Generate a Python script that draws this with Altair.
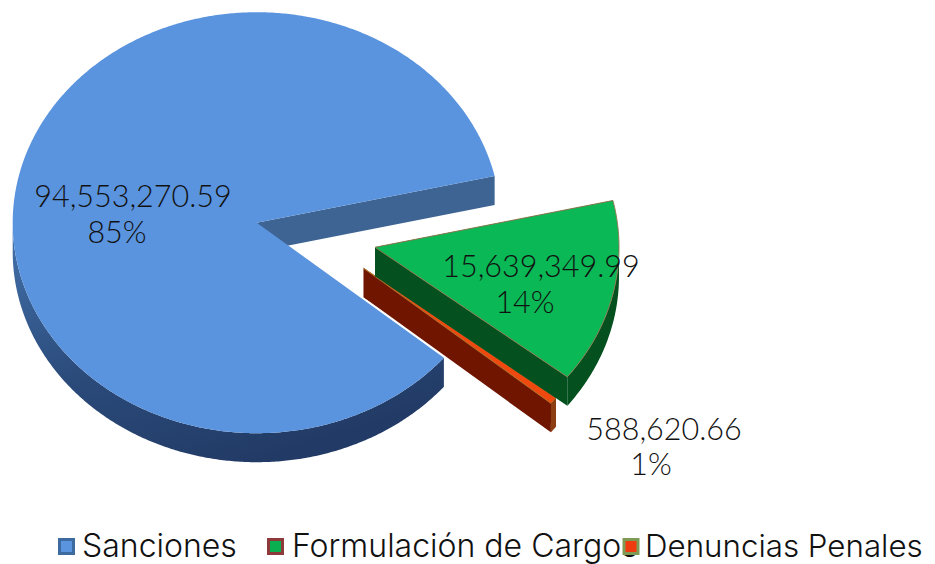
import math
import altair as alt
import pandas as pd

categories = ["Sanciones", "Formulación de Cargos", "Denuncias Penales"]
values = [94553270.59, 15639349.99, 588620.66]
percent_labels = ["85%", "14%", "1%"]
value_labels = ["94,553,270.59", "15,639,349.99", "588,620.66"]

# layout, in page pixels
M = 8
RX, RY, DEPTH = 244, 210.5, 29
START = 129.9
APEX = [(256.7, 222.7), (375, 247.3), (363.7, 268.3)]
FONT = "Lato"
LEGEND_FONT = "Inter"
total = sum(values)
sweeps = [v / total * 360 for v in values]


def pt(c, a, dz=0):
    r = math.radians(a)
    return (c[0] + RX * math.sin(r) - M, c[1] - RY * math.cos(r) + dz - M)


def arc(c, a0, a1, dz=0):
    n = max(4, int(abs(a1 - a0) * 2))
    return [pt(c, a0 + (a1 - a0) * i / n, dz) for i in range(n + 1)]


def shift(c, dz=0):
    return (c[0] - M, c[1] + dz - M)


def geo(poly):
    ring = [list(p) for p in poly] + [list(poly[0])]
    return alt.InlineData(values={"type": "Feature", "properties": {},
                                  "geometry": {"type": "Polygon", "coordinates": [ring]}},
                          format=alt.DataFormat(type="json"))


def shape(poly, fill, stroke=None, sw=0.0):
    kw = {"fill": fill}
    if stroke:
        kw.update(stroke=stroke, strokeWidth=sw)
    else:
        kw.update(strokeWidth=0)
    return alt.Chart(geo(poly)).mark_geoshape(**kw)


def wedge_layers(i, a0, a1, top, cut, outer, stroke=None):
    c = APEX[i]
    layers = []
    # flat cut faces
    for a in (a0, a1):
        p = pt(c, a)
        layers.append(shape([shift(c), p, (p[0], p[1] + DEPTH), shift(c, DEPTH)], cut))
    # outer rim, only where it faces the viewer
    lo = max(a0, 90)
    hi = min(a1, 270)
    if hi > lo:
        layers.append(shape(arc(c, lo, hi) + arc(c, hi, lo, DEPTH), outer))
    layers.append(shape([shift(c)] + arc(c, a0, a1), top, stroke, 1.0))
    return layers


blue_rim = alt.Gradient(gradient="linear", x1=0, y1=0, x2=0.55, y2=1,
                        stops=[alt.GradientStop(offset=0, color="#4473ad"),
                               alt.GradientStop(offset=0.55, color="#2b4b7b"),
                               alt.GradientStop(offset=1, color="#223b66")])

a0 = START
a1 = a0 + sweeps[0]          # blue ends past the full turn
a2 = a1 - 360 + sweeps[1]
a3 = a2 + sweeps[2]

layers = []
layers += wedge_layers(2, a2, a3, "#f0490f", "#701500", "#8c3d12", "#b0762e")
layers += wedge_layers(1, a1 - 360, a2, "#0ab855", "#04501f", "#04501f", "#8c7a50")
# blue: far cut face is seen from the gap, near one is hidden
c = APEX[0]
p = pt(c, a1)
layers.append(shape([shift(c), p, (p[0], p[1] + DEPTH), shift(c, DEPTH)], "#3e6494"))
layers.append(shape(arc(c, a0, 270) + arc(c, 270, a0, DEPTH), blue_rim))
layers.append(shape([shift(c)] + arc(c, a0, a1), "#5b94de"))


def txt(s, x, y, size, anchor="center", font=FONT):
    return alt.Chart(pd.DataFrame({"t": [s]})).mark_text(
        font=font, fontSize=size, fontWeight=300, align=anchor, baseline="alphabetic", color="#111111"
    ).encode(x=alt.value(x - M), y=alt.value(y - M), text="t:N")


def sq(x, y, fill, stroke):
    return alt.Chart(pd.DataFrame({"t": [0]})).mark_square(
        size=196, fill=fill, stroke=stroke, strokeWidth=3, opacity=1
    ).encode(x=alt.value(x - M), y=alt.value(y - M))


SIZE = 30.5
LEG = 32
layers += [
    txt(value_labels[0], 133, 207, SIZE), txt(percent_labels[0], 117, 243, SIZE),
    txt(value_labels[1], 541, 277, SIZE), txt(percent_labels[1], 525, 313, SIZE),
    txt(value_labels[2], 664, 440, SIZE), txt(percent_labels[2], 651, 475, SIZE),
    txt(categories[0], 82, 557, LEG, "left", LEGEND_FONT),
    txt(categories[1], 292, 557, LEG, "left", LEGEND_FONT),
    txt(categories[2], 645, 557, 31.3, "left", LEGEND_FONT),
    sq(66.5, 546.5, "#5b94de", "#3d6a9f"),
    sq(275.5, 546.5, "#0ab050", "#8f3a3a"),
    sq(631, 546.5, "#f03a10", "#7f9a55"),
]

chart = alt.layer(*layers).project(type="identity", scale=1, translate=[0, 0]).properties(
    width=919, height=556, padding=0, background="white",
    autosize=alt.AutoSizeParams(type="none"),
).configure_view(stroke=None)

chart.save("out.html", embed_options={"renderer": "svg", "actions": False})
